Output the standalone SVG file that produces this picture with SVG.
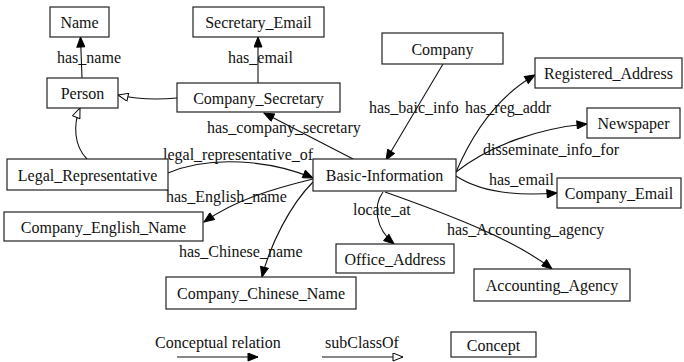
<svg xmlns="http://www.w3.org/2000/svg" width="684" height="362" viewBox="0 0 684 362">
<defs>
<style>
.box{fill:#fff;stroke:#222;stroke-width:1.2}
.nt{font-family:"Liberation Serif","Times New Roman",serif;font-size:16px;fill:#111;text-anchor:middle}
.el{font-family:"Liberation Serif","Times New Roman",serif;font-size:16px;fill:#111}
.e{fill:none;stroke:#111;stroke-width:1.1}
.rel{marker-end:url(#arr)}
.sub{marker-end:url(#hol)}
</style>
<marker id="arr" markerUnits="userSpaceOnUse" markerWidth="12" markerHeight="9" refX="11" refY="4.5" orient="auto">
<path d="M1,0.5 L11,4.5 L1,8.5 z" fill="#000" stroke="#000" stroke-width="1"/>
</marker>
<marker id="hol" markerUnits="userSpaceOnUse" markerWidth="12" markerHeight="9" refX="11" refY="4.5" orient="auto">
<path d="M1,0.5 L11,4.5 L1,8.5 z" fill="#fff" stroke="#000" stroke-width="1"/>
</marker>
</defs>
<rect width="684" height="362" fill="#fff"/>
<g id="connectors">
<path class="e rel" d="M82,78 L80.5,37"/>
<path class="e rel" d="M258,83 L258,37"/>
<path class="e sub" d="M177,98 C155,100 136,99 118,95"/>
<path class="e sub" d="M87,159 C74,146 73,125 80,108"/>
<path class="e rel" d="M355,160 L264,113"/>
<path class="e rel" d="M443,64 L386,160"/>
<path class="e rel" d="M456,172 C474,130 500,95 535,75"/>
<path class="e rel" d="M456,172 C490,145 540,128 587,124"/>
<path class="e rel" d="M456,176 C482,193 520,196 557,193"/>
<path class="e rel" d="M383,192 C373,206 375,228 394,244"/>
<path class="e rel" d="M385,192 C450,215 515,240 552,269"/>
<path class="e rel" d="M168,173 C210,155 270,160 313,178"/>
<path class="e rel" d="M313,179 C272,189 235,200 204,222"/>
<path class="e rel" d="M313,182 C290,205 270,245 262,277"/>
<path class="e rel" d="M177,357 L258,357"/>
<path class="e sub" d="M322,357 L403,357"/>
</g>
<g id="edge-labels">
<text class="el" x="57" y="63">has_name</text>
<text class="el" x="228" y="63">has_email</text>
<text class="el" x="207" y="133">has_company_secretary</text>
<text class="el" x="369" y="113">has_baic_info</text>
<text class="el" x="465" y="113">has_reg_addr</text>
<text class="el" x="483" y="155">disseminate_info_for</text>
<text class="el" x="489" y="185">has_email</text>
<text class="el" x="163" y="160">legal_representative_of</text>
<text class="el" x="166" y="202">has_English_name</text>
<text class="el" x="353" y="215">locate_at</text>
<text class="el" x="447" y="235">has_Accounting_agency</text>
<text class="el" x="179" y="257">has_Chinese_name</text>
<text class="el" x="155" y="348">Conceptual relation</text>
<text class="el" x="325" y="348">subClassOf</text>
</g>
<g id="Name"><rect class="box" x="50" y="7" width="59" height="30"/><text class="nt" x="79.5" y="28">Name</text></g>
<g id="Secretary_Email"><rect class="box" x="193" y="7" width="131" height="30"/><text class="nt" x="258.5" y="28">Secretary_Email</text></g>
<g id="Person"><rect class="box" x="47" y="78" width="71" height="30"/><text class="nt" x="82.5" y="99">Person</text></g>
<g id="Company_Secretary"><rect class="box" x="177" y="83" width="163" height="29"/><text class="nt" x="258.5" y="103.5">Company_Secretary</text></g>
<g id="Legal_Representative"><rect class="box" x="7" y="159" width="161" height="31"/><text class="nt" x="87.5" y="180.5">Legal_Representative</text></g>
<g id="Basic-Information"><rect class="box" x="313" y="159" width="143" height="32"/><text class="nt" x="384.5" y="181">Basic-Information</text></g>
<g id="Company"><rect class="box" x="382" y="33" width="121" height="31"/><text class="nt" x="442.5" y="54.5">Company</text></g>
<g id="Registered_Address"><rect class="box" x="535" y="58" width="147" height="30"/><text class="nt" x="608.5" y="79">Registered_Address</text></g>
<g id="Newspaper"><rect class="box" x="587" y="108" width="93" height="30"/><text class="nt" x="633.5" y="129">Newspaper</text></g>
<g id="Company_Email"><rect class="box" x="557" y="178" width="124" height="30"/><text class="nt" x="619" y="199">Company_Email</text></g>
<g id="Company_English_Name"><rect class="box" x="4" y="212" width="199" height="29"/><text class="nt" x="103.5" y="232.5">Company_English_Name</text></g>
<g id="Company_Chinese_Name"><rect class="box" x="166" y="277" width="190" height="32"/><text class="nt" x="261" y="299">Company_Chinese_Name</text></g>
<g id="Office_Address"><rect class="box" x="336" y="244" width="118" height="29"/><text class="nt" x="395" y="264.5">Office_Address</text></g>
<g id="Accounting_Agency"><rect class="box" x="474" y="269" width="156" height="32"/><text class="nt" x="552" y="291">Accounting_Agency</text></g>
<g id="Concept"><rect class="box" x="451" y="332" width="85" height="25"/><text class="nt" x="493.5" y="350.5">Concept</text></g>
</svg>
